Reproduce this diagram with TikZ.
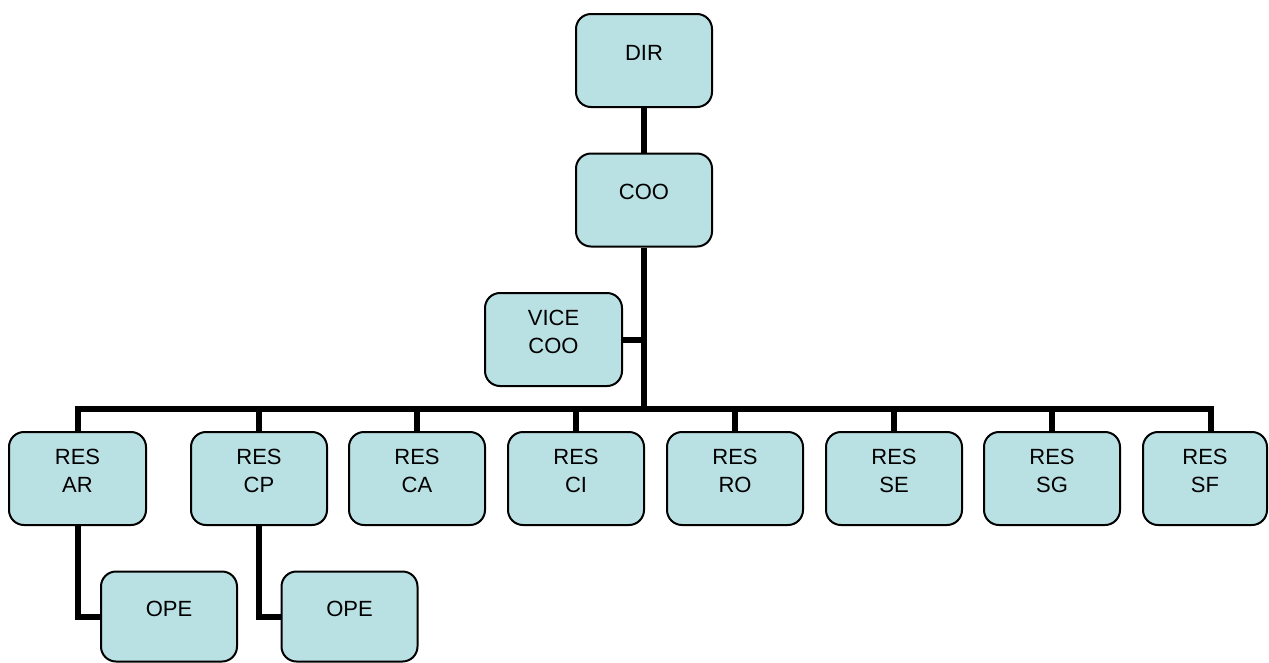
\documentclass[tikz,border=0pt]{standalone}
\usepackage{fontspec}
\setmainfont{Liberation Sans}
\usetikzlibrary{backgrounds}
\definecolor{boxfill}{RGB}{185,224,227}
\begin{document}
\begin{tikzpicture}[x=1pt,y=-1pt,
  box/.style={draw=black, line width=2pt, fill=boxfill, rounded corners=15pt,
    minimum width=136pt, minimum height=93pt, inner sep=0pt},
  lbl/.style={yshift=8pt, align=center, font=\fontsize{22}{28}\selectfont, inner sep=0pt},
  conn/.style={draw=black, line width=6pt}]
\useasboundingbox (0,0) rectangle (1269,662);
% box nodes
\node[box, label={[lbl]center:DIR}] (dir) at (644,60.5) {};
\node[box, label={[lbl]center:COO}] (coo) at (644,200) {};
\node[box, minimum width=137pt, label={[lbl]center:VICE\\COO}] (vice) at (553.5,339.5) {};
\node[box, minimum width=137pt, label={[lbl]center:RES\\AR}] (ar) at (77.5,478.5) {};
\node[box, label={[lbl]center:RES\\CP}] (cp) at (259,478.5) {};
\node[box, label={[lbl]center:RES\\CA}] (ca) at (417,478.5) {};
\node[box, label={[lbl]center:RES\\CI}] (ci) at (576,478.5) {};
\node[box, label={[lbl]center:RES\\RO}] (ro) at (735,478.5) {};
\node[box, label={[lbl]center:RES\\SE}] (se) at (894,478.5) {};
\node[box, label={[lbl]center:RES\\SG}] (sg) at (1052,478.5) {};
\node[box, minimum width=124pt, label={[lbl]center:RES\\SF}] (sf) at (1205,478.5) {};
\node[box, minimum height=90pt, label={[lbl]center:OPE}] (ope1) at (169,616.5) {};
\node[box, minimum height=90pt, label={[lbl]center:OPE}] (ope2) at (349.5,616.5) {};
\coordinate (bus) at (644,409);
\coordinate (sfin) at (1211,432);
\coordinate (arin) at (78,432);
% connectors behind boxes
\begin{scope}[on background layer]
\draw[conn] (dir.south) -- (coo.north);
\draw[conn] (coo.south) -- (bus);
\draw[conn] (vice.east) -- (vice.east -| bus);
\draw[conn] (arin) |- (bus) -| (sfin);
\foreach \n in {cp,ca,ci,ro,se,sg}
  \draw[conn] (\n.north) -- (\n.north |- bus);
\draw[conn] (arin |- ar.south) |- (ope1.west);
\draw[conn] (cp.south) |- (ope2.west);
\end{scope}
\end{tikzpicture}
\end{document}
